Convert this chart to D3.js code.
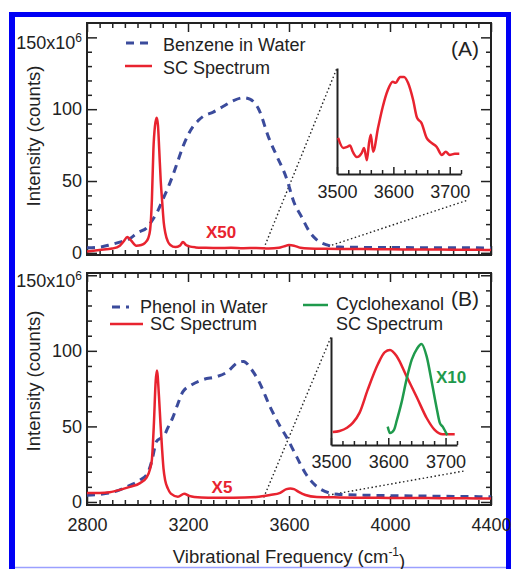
<!DOCTYPE html>
<html lang="en">
<head>
<meta charset="UTF-8">
<title>SC Spectrum vs Water</title>
<script src="https://d3js.org/d3.v7.min.js"></script>
<style>
    body { margin: 0; background: #fff; }
    svg { display: block; font-family: "Liberation Sans", Arial, Helvetica, sans-serif; }
    .axis text { font-size: 18px; fill: #222; }
    .axis line { stroke: #222; stroke-width: 1.5px; }
    .axis path { stroke: #222; stroke-width: 2px; }
    .lbl { fill: #222; }
</style>
</head>
<body>
<div id="chart"></div>
<script>
// ---- data ----
// panel A: benzene in water (dashed) and benzene SC spectrum (x50)
const benzWaterFreq = [2800, 2850, 2890, 2930, 2970, 3000, 3040, 3060, 3080, 3100, 3120, 3140, 3160, 3180, 3200, 3220, 3240, 3260, 3300, 3340, 3380, 3420, 3445, 3480, 3520, 3550, 3590, 3620, 3650, 3680, 3710, 3750, 3800, 3900, 4000, 4100, 4200, 4300, 4400];
const benzWaterVal  = [3.5, 4, 5.5, 7.5, 10, 14, 18, 23, 29, 37, 45, 54, 64, 74, 82, 88, 92, 95, 98, 102, 106, 108, 107, 100, 80, 68, 52, 35, 25, 15, 9, 5.5, 4, 3.8, 3.7, 3.6, 3.5, 3.5, 3.4];
const benzScFreq = [2800, 2850, 2900, 2930, 2945, 2960, 2975, 2995, 3015, 3030, 3042, 3050, 3057, 3063, 3069, 3076, 3081, 3086, 3092, 3098, 3104, 3110, 3120, 3130, 3150, 3168, 3180, 3192, 3205, 3230, 3270, 3320, 3370, 3420, 3470, 3520, 3560, 3580, 3600, 3620, 3645, 3680, 3750, 3850, 3950, 4050, 4150, 4250, 4350, 4400];
const benzScVal  = [1, 2, 3, 5, 8, 11, 8.5, 5, 5.5, 7, 10, 16, 37, 72, 88, 94, 89, 72, 50, 35, 21, 14, 8, 5.5, 4, 5, 7.5, 5.5, 4.5, 3.8, 3.5, 3.3, 3.6, 3.2, 3.4, 3.1, 3.5, 4.5, 5.5, 5, 3.5, 3, 2.8, 2.7, 2.5, 2.4, 2.3, 2.2, 2.1, 2];

// panel B: phenol in water (dashed) and phenol SC spectrum (x5)
const phenWaterFreq = [2800, 2850, 2890, 2930, 2970, 3010, 3040, 3058, 3075, 3090, 3102, 3120, 3140, 3160, 3180, 3215, 3260, 3315, 3355, 3395, 3420, 3450, 3480, 3525, 3565, 3590, 3630, 3665, 3695, 3730, 3760, 3800, 3900, 4000, 4100, 4200, 4300, 4400];
const phenWaterVal  = [4.5, 5, 6, 8, 11, 14.5, 19, 28, 40, 42, 43, 49, 56, 65, 73, 77.5, 81, 83, 86, 92, 93, 88, 80, 63, 50, 43, 30, 19, 12.5, 8, 6, 5, 4.5, 4.2, 4, 3.8, 3.6, 3.5];
const phenScFreq = [2800, 2850, 2890, 2930, 2970, 3010, 3035, 3050, 3057, 3065, 3072, 3077, 3085, 3091, 3097, 3103, 3110, 3120, 3132, 3160, 3185, 3205, 3225, 3280, 3380, 3470, 3525, 3565, 3590, 3605, 3620, 3640, 3665, 3710, 3800, 3900, 4000, 4100, 4200, 4300, 4400];
const phenScVal  = [6, 6, 6.5, 8, 10, 12.5, 16, 22, 28, 52, 80, 87, 70, 52, 36, 22, 14, 9, 5.5, 3.5, 5.5, 4, 3.3, 2.8, 2.8, 3.3, 4.6, 6, 8.5, 9, 8.5, 6.5, 4.6, 3.3, 3, 2.8, 2.7, 2.6, 2.5, 2.4, 2.3];

// insets (arbitrary units, 0-100)
const insetAFreq = [3502, 3511, 3518, 3523, 3528, 3535, 3544, 3548, 3553, 3557, 3560, 3564, 3573, 3581, 3590, 3599, 3604, 3612, 3619, 3626, 3635, 3642, 3650, 3659, 3666, 3677, 3686, 3693, 3700, 3709, 3717];
const insetAVal  = [34, 24.5, 25.5, 27, 21, 16, 20, 24.5, 13, 30, 37, 21, 44, 63, 79, 87, 86, 91.5, 91.5, 86, 70, 53, 48, 34, 30, 25.5, 18, 21, 18, 19, 19];
const insetBRedFreq = [3503, 3515, 3528, 3538, 3550, 3564, 3582, 3594, 3603, 3615, 3632, 3650, 3667, 3681, 3695, 3716];
const insetBRedVal  = [12, 13, 16, 20.5, 30, 51, 75, 86, 88, 82, 63.5, 44, 25, 14, 10, 10];
const cycloFreq = [3599, 3603, 3610, 3615, 3623, 3632, 3641, 3650, 3658, 3667, 3676, 3684, 3690, 3695, 3703];
const cycloVal  = [17, 11, 14, 23, 39, 61, 79, 89, 93.5, 82, 58, 35.5, 20.5, 17, 9];

// ticks
const xMajor = [2800, 3200, 3600, 4000, 4400];
const xMinor = d3.range(2800, 4401, 50).filter(v => !xMajor.includes(v));
const yMajor = [0, 50, 100, 150];
const yMinor = d3.range(0, 151, 10).filter(v => !yMajor.includes(v));
const insetMajor = [3500, 3600, 3700];
const insetMinor = d3.range(3500, 3721, 20).filter(v => !insetMajor.includes(v));

const RED = "#e8232f", BLUE = "#3b4b9c", GREEN = "#1f9a4c", INK = "#222";

const svg = d3.select("#chart").append("svg").attr("width", 511).attr("height", 569);

// blue page border
svg.append("rect").attr("x", 9).attr("y", 12).attr("width", 502).attr("height", 5).attr("fill", "#0000f5");
svg.append("rect").attr("x", 9).attr("y", 12).attr("width", 6).attr("height", 557).attr("fill", "#0000f5");
svg.append("rect").attr("x", 506).attr("y", 12).attr("width", 5).attr("height", 557).attr("fill", "#0000f5");
svg.append("line").attr("x1", 15).attr("x2", 506).attr("y1", 567.5).attr("y2", 567.5).attr("stroke", "#9aa0ff").attr("stroke-width", 1.5);

const x = d3.scaleLinear().domain([2800, 4400]).range([87, 491]);
const zip = (a, b) => a.map((v, i) => [v, b[i]]);

function drawPanel(cfg) {
    const y = cfg.y;
    const g = svg.append("g");
    const [yBot, yTop] = y.range();

    // frame with inward ticks on all four sides
    const sides = [
        [d3.axisBottom(x), `translate(0,${yBot})`, xMinor, xMajor, -5, -9],
        [d3.axisTop(x), `translate(0,${yTop})`, xMinor, xMajor, -5, -9],
        [d3.axisLeft(y), `translate(87,0)`, yMinor, yMajor, -5, -10],
        [d3.axisRight(y), `translate(491,0)`, yMinor, yMajor, -5, -10]
    ];
    sides.forEach(([ax, tr, minor, major, sMin, sMaj], i) => {
        g.append("g").attr("class", "axis").attr("transform", tr)
            .call(ax.tickValues(minor).tickSize(sMin).tickSizeOuter(0).tickFormat(""))
            .select(".domain").remove();
        const showLabels = (i === 0 && cfg.xLabels) || i === 2;
        const a = g.append("g").attr("class", "axis").attr("transform", tr)
            .call(ax.tickValues(major).tickSize(sMaj).tickSizeOuter(0)
                .tickPadding(i === 0 ? 13 : 5)
                .tickFormat(d => showLabels ? d : ""));
        a.select(".domain").remove();
        if (i === 2) {
            // 150x10^6 label
            a.selectAll("text").filter(d => d === 150).each(function () {
                const t = d3.select(this).text("150x10").attr("y", 5);
                t.append("tspan").attr("dy", "-0.55em").attr("font-size", "12px").text("6");
            });
        }
    });
    // frame box
    g.append("rect").attr("x", 87).attr("y", yTop).attr("width", 404).attr("height", yBot - yTop)
        .attr("fill", "none").attr("stroke", INK).attr("stroke-width", 2);

    // y title
    g.append("text").attr("class", "lbl").style("font-size", "18.5px")
        .attr("transform", `translate(40,${cfg.titleY}) rotate(-90)`)
        .attr("text-anchor", "middle").text("Intensity (counts)");

    // dotted zoom lines
    const dot = (x1, y1, x2, y2) => g.append("line").attr("x1", x1).attr("y1", y1).attr("x2", x2).attr("y2", y2)
        .attr("stroke", INK).attr("stroke-width", 1.4).attr("stroke-dasharray", "1.5,2.5");
    dot(x(3500), y(3), cfg.ix(3500), cfg.iy(100));
    dot(x(3755), y(4.5), cfg.ix(3720) + 7, cfg.iy(0) + 26);

    // data
    const line = d3.line().x(d => x(d[0])).y(d => y(d[1])).curve(d3.curveMonotoneX);
    g.append("path").datum(zip(cfg.waterF, cfg.waterV)).attr("d", line)
        .attr("fill", "none").attr("stroke", BLUE).attr("stroke-width", 3).attr("stroke-dasharray", "8,6");
    g.append("path").datum(zip(cfg.scF, cfg.scV)).attr("d", line)
        .attr("fill", "none").attr("stroke", RED).attr("stroke-width", 2.5);

    // inset
    const ix = cfg.ix, iy = cfg.iy;
    const [iBot] = iy.range();
    g.append("g").attr("class", "axis").attr("transform", `translate(0,${iBot})`)
        .call(d3.axisBottom(ix).tickValues(insetMinor).tickSize(-4).tickSizeOuter(0).tickFormat(""))
        .select(".domain").remove();
    g.append("g").attr("class", "axis").attr("transform", `translate(0,${iBot})`)
        .call(d3.axisBottom(ix).tickValues(insetMajor).tickSize(-7).tickSizeOuter(0)
            .tickPadding(cfg.iPad).tickFormat(d3.format("d")));
    g.append("g").attr("class", "axis").attr("transform", `translate(${ix.range()[0]},0)`)
        .call(d3.axisLeft(iy).tickValues([]).tickSizeOuter(0));
    const iline = d3.line().x(d => ix(d[0])).y(d => iy(d[1])).curve(d3.curveMonotoneX);
    cfg.insetSeries.forEach(s => {
        g.append("path").datum(zip(s.f, s.v)).attr("d", iline)
            .attr("fill", "none").attr("stroke", s.color).attr("stroke-width", 2.5);
    });

    // legend
    cfg.legend.forEach(l => {
        g.append("line").attr("x1", l.x1).attr("x2", l.x2).attr("y1", l.y).attr("y2", l.y)
            .attr("stroke", l.color).attr("stroke-width", l.dash ? 3 : 2.5)
            .attr("stroke-dasharray", l.dash ? "8,6" : null);
        l.text.forEach((t, k) => g.append("text").attr("class", "lbl").style("font-size", "18px")
            .attr("x", l.tx).attr("y", l.ty + k * 20).text(t));
    });

    // panel letter and multipliers
    g.append("text").attr("class", "lbl").style("font-size", "21px").attr("text-anchor", "end")
        .attr("x", 479).attr("y", cfg.letterY).text(cfg.letter);
    cfg.notes.forEach(n => g.append("text").attr("x", n.x).attr("y", n.y).attr("text-anchor", "middle")
        .style("font-size", "17px").attr("font-weight", "bold").attr("fill", n.color).text(n.t));
}

const yA = d3.scaleLinear().domain([-1.5, 160]).range([255, 23]);
const yB = d3.scaleLinear().domain([-2, 151.5]).range([505, 273]);

drawPanel({
    y: yA, xLabels: false, titleY: 136, letter: "(A)", letterY: 56,
    waterF: benzWaterFreq, waterV: benzWaterVal, scF: benzScFreq, scV: benzScVal,
    ix: d3.scaleLinear().domain([3500, 3720]).range([337, 461]),
    iy: d3.scaleLinear().domain([0, 100]).range([174, 68]), iPad: 11,
    insetSeries: [{ f: insetAFreq, v: insetAVal, color: RED }],
    legend: [
        { x1: 126, x2: 151, y: 43, color: BLUE, dash: true, tx: 163, ty: 51, text: ["Benzene in Water"] },
        { x1: 125, x2: 152, y: 66, color: RED, dash: false, tx: 163, ty: 74, text: ["SC Spectrum"] }
    ],
    notes: [{ x: 221, y: 238, t: "X50", color: RED }]
});

drawPanel({
    y: yB, xLabels: true, titleY: 381, letter: "(B)", letterY: 306,
    waterF: phenWaterFreq, waterV: phenWaterVal, scF: phenScFreq, scV: phenScVal,
    ix: d3.scaleLinear().domain([3500, 3720]).range([331, 457]),
    iy: d3.scaleLinear().domain([0, 100]).range([445, 337]), iPad: 10,
    insetSeries: [{ f: insetBRedFreq, v: insetBRedVal, color: RED }, { f: cycloFreq, v: cycloVal, color: GREEN }],
    legend: [
        { x1: 112, x2: 129, y: 307, color: BLUE, dash: true, tx: 140, ty: 313, text: ["Phenol in Water"] },
        { x1: 110, x2: 143, y: 324, color: RED, dash: false, tx: 150, ty: 330, text: ["SC Spectrum"] },
        { x1: 303, x2: 328, y: 305, color: GREEN, dash: false, tx: 336, ty: 310, text: ["Cyclohexanol", "SC Spectrum"] }
    ],
    notes: [{ x: 222, y: 493, t: "X5", color: RED }, { x: 451, y: 383, t: "X10", color: GREEN }]
});

// x title
const xt = svg.append("text").attr("class", "lbl").style("font-size", "18.5px")
    .attr("x", 289).attr("y", 563).attr("text-anchor", "middle");
xt.append("tspan").text("Vibrational Frequency (cm");
xt.append("tspan").attr("dy", "-0.6em").style("font-size", "12px").text("-1");
xt.append("tspan").attr("dy", "0.6em").text(")");
</script>
</body>
</html>
